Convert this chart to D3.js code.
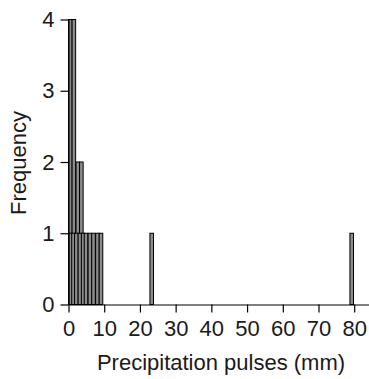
<!DOCTYPE html>
<html>
<head>
<meta charset="utf-8">
<script src="https://cdn.jsdelivr.net/npm/d3@7"></script>
<style>
  html, body { margin: 0; padding: 0; background: #fff; }
  svg { display: block; }
  text { font-family: "Liberation Sans", Arial, sans-serif; fill: #1a1a1a; }
</style>
</head>
<body>
<script>
// Precipitation pulse sizes (mm) and how often each occurred
const pulseSizes = [0.5, 1.5, 2.6, 3.6, 0.6, 1.4, 2.2, 3.2, 4.1, 4.9, 6.0, 7.0, 8.1, 9.1, 23.3, 79.3];
const frequencies = [4, 4, 2, 2, 1, 1, 1, 1, 1, 1, 1, 1, 1, 1, 1, 1];
const xTicks = [0, 10, 20, 30, 40, 50, 60, 70, 80];
const yTicks = [0, 1, 2, 3, 4];
const xTitle = "Precipitation pulses (mm)";
const yTitle = "Frequency";

const W = 369, H = 379;
const barWidthMm = 1;

const svg = d3.select("body").append("svg")
  .attr("width", W).attr("height", H);

const x = d3.scaleLinear().domain([0, 84]).range([68.5, 368.5]);
const y = d3.scaleLinear().domain([0, 4]).range([304.5, 19.5]);

// Tallest bars first so shorter bars sit on top of them
const bars = pulseSizes.map((v, i) => ({ v, f: frequencies[i] }))
  .sort((a, b) => b.f - a.f);

svg.append("g").selectAll("rect")
  .data(bars)
  .join("rect")
  .attr("x", d => x(d.v - barWidthMm / 2))
  .attr("width", d => x(d.v + barWidthMm / 2) - x(d.v - barWidthMm / 2))
  .attr("y", d => y(d.f))
  .attr("height", d => y(0) - y(d.f))
  .attr("fill", "#8c8c8c")
  .attr("stroke", "#000")
  .attr("stroke-width", 1);

const xAxis = svg.append("g")
  .attr("transform", `translate(0,${y(0)})`)
  .call(d3.axisBottom(x).tickValues(xTicks).tickFormat(d3.format("d"))
    .tickSize(8).tickSizeOuter(0).tickPadding(8));

const yAxis = svg.append("g")
  .attr("transform", `translate(${x(0)},0)`)
  .call(d3.axisLeft(y).tickValues(yTicks).tickFormat(d3.format("d"))
    .tickSize(8).tickSizeOuter(0).tickPadding(6));

[xAxis, yAxis].forEach(g => {
  g.selectAll("path, line").attr("stroke", "#000").attr("stroke-width", 1.2);
  g.selectAll("text").style("font-size", "22px").attr("fill", "#1a1a1a");
});

svg.append("text")
  .attr("x", 221).attr("y", 370)
  .attr("text-anchor", "middle")
  .style("font-size", "22px")
  .text(xTitle);

svg.append("text")
  .attr("transform", `translate(26,163) rotate(-90)`)
  .attr("text-anchor", "middle")
  .style("font-size", "22px")
  .text(yTitle);
</script>
</body>
</html>
